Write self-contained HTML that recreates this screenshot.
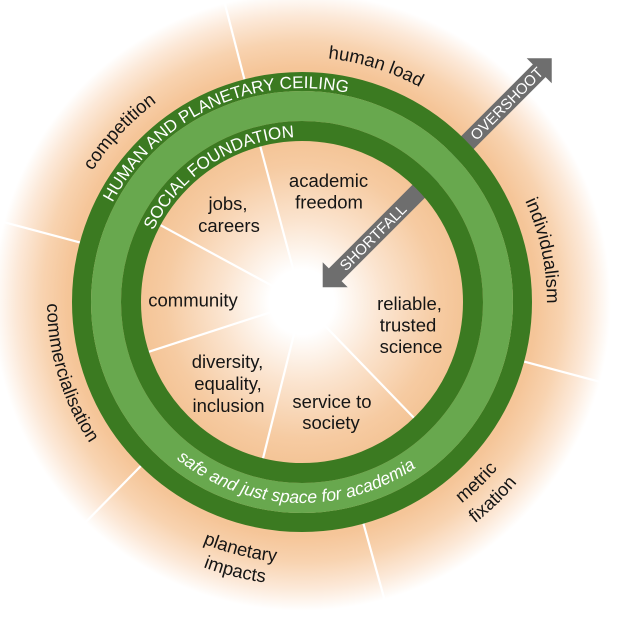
<!DOCTYPE html>
<html>
<head>
<meta charset="utf-8">
<style>
html,body{margin:0;padding:0;background:#fff;}
svg{display:block;}
text{font-family:"Liberation Sans",Helvetica,Arial,sans-serif;}
.lbl{font-size:18.5px;fill:#151515;}
.ring{font-size:17px;fill:#ffffff;}
.arr{font-size:15px;fill:#ffffff;}
</style>
</head>
<body>
<svg xmlns="http://www.w3.org/2000/svg" xmlns:xlink="http://www.w3.org/1999/xlink" width="617" height="617" viewBox="0 0 617 617">
<defs>
<radialGradient id="bg" gradientUnits="userSpaceOnUse" cx="302" cy="302" r="325">
<stop offset="0" stop-color="#ffffff"/>
<stop offset="0.1" stop-color="#ffffff"/>
<stop offset="0.25" stop-color="#fbe4cf"/>
<stop offset="0.42" stop-color="#f6cba2"/>
<stop offset="0.5" stop-color="#f4c496"/>
<stop offset="0.72" stop-color="#f5c598"/>
<stop offset="0.8" stop-color="#f8d3b0"/>
<stop offset="0.88" stop-color="#fce8d7"/>
<stop offset="0.95" stop-color="#ffffff"/>
<stop offset="1" stop-color="#ffffff"/>
</radialGradient>
<path id="cw245" d="M302,57 A245,245 0 0 1 302,547"/>
<path id="cw247" d="M302,55 A247,247 0 0 1 302,549"/>
<path id="cw214" d="M302,88 A214,214 0 0 1 302,516"/>
<path id="cw165" d="M302,137 A165,165 0 0 1 302,467"/>
<path id="ccw255" d="M302,557 A255,255 0 0 0 302,47"/>
<path id="ccw261" d="M302,563 A261,261 0 0 0 302,41"/>
<path id="ccw283" d="M302,585 A283,283 0 0 0 302,19"/>
<path id="ccw257" d="M302,559 A257,257 0 0 0 302,45"/>
<path id="ccw281" d="M302,583 A281,281 0 0 0 302,21"/>
<path id="ccw201" d="M302,503 A201,201 0 0 0 302,101"/>
</defs>

<rect x="0" y="0" width="617" height="617" fill="url(#bg)"/>

<!-- inner divider lines -->
<g stroke="#ffffff" stroke-width="2.2" stroke-linecap="butt">
<line x1="332" y1="302" x2="464" y2="302" transform="rotate(255 302 302)"/>
<line x1="332" y1="302" x2="464" y2="302" transform="rotate(208.5 302 302)"/>
<line x1="332" y1="302" x2="464" y2="302" transform="rotate(162 302 302)"/>
<line x1="332" y1="302" x2="464" y2="302" transform="rotate(104 302 302)"/>
<line x1="332" y1="302" x2="464" y2="302" transform="rotate(46 302 302)"/>
<!-- outer divider lines -->
<line x1="530" y1="302" x2="620" y2="302" transform="rotate(255.5 302 302)"/>
<line x1="530" y1="302" x2="620" y2="302" transform="rotate(195 302 302)"/>
<line x1="530" y1="302" x2="620" y2="302" transform="rotate(134.5 302 302)"/>
<line x1="530" y1="302" x2="620" y2="302" transform="rotate(74.5 302 302)"/>
<line x1="530" y1="302" x2="620" y2="302" transform="rotate(15 302 302)"/>
</g>

<!-- arrow -->
<g transform="translate(322.7 287.3) rotate(-45)">
<polygon fill="#6e6e6e" points="0,0 17.7,-17.7 17.7,-9 306.2,-9 306.2,-17.7 323.9,0 306.2,17.7 306.2,9 17.7,9 17.7,17.7"/>
<text class="arr" x="71" y="5.4" text-anchor="middle">SHORTFALL</text>
<text class="arr" x="260" y="5.4" text-anchor="middle">OVERSHOOT</text>
</g>

<!-- rings -->
<circle cx="302" cy="302" r="220.5" fill="none" stroke="#3b7a21" stroke-width="19"/>
<circle cx="302" cy="302" r="196" fill="none" stroke="#68a84e" stroke-width="30"/>
<circle cx="302" cy="302" r="171" fill="none" stroke="#3b7a21" stroke-width="20"/>

<!-- ring text -->
<text class="ring" transform="rotate(245 302 302)"><textPath href="#cw214" xlink:href="#cw214" startOffset="50%" text-anchor="middle">HUMAN AND PLANETARY CEILING</textPath></text>
<text class="ring" transform="rotate(236.5 302 302)"><textPath href="#cw165" xlink:href="#cw165" startOffset="50%" text-anchor="middle">SOCIAL FOUNDATION</textPath></text>
<text class="ring" style="font-style:italic;font-size:17.5px" transform="rotate(92 302 302)"><textPath href="#ccw201" xlink:href="#ccw201" startOffset="50%" text-anchor="middle">safe and just space for academia</textPath></text>

<!-- outer labels -->
<text class="lbl" transform="rotate(287.4 302 302)"><textPath href="#cw245" xlink:href="#cw245" startOffset="50%" text-anchor="middle">human load</textPath></text>
<text class="lbl" transform="rotate(223 302 302)"><textPath href="#cw247" xlink:href="#cw247" startOffset="50%" text-anchor="middle">competition</textPath></text>
<text class="lbl" transform="rotate(348 302 302)"><textPath href="#cw245" xlink:href="#cw245" startOffset="50%" text-anchor="middle">individualism</textPath></text>
<text class="lbl" transform="rotate(163 302 302)"><textPath href="#ccw255" xlink:href="#ccw255" startOffset="50%" text-anchor="middle">commercialisation</textPath></text>
<text class="lbl" transform="rotate(104 302 302)"><textPath href="#ccw261" xlink:href="#ccw261" startOffset="50%" text-anchor="middle">planetary</textPath></text>
<text class="lbl" transform="rotate(104 302 302)"><textPath href="#ccw283" xlink:href="#ccw283" startOffset="50%" text-anchor="middle">impacts</textPath></text>
<text class="lbl" transform="rotate(46 302 302)"><textPath href="#ccw257" xlink:href="#ccw257" startOffset="50%" text-anchor="middle">metric</textPath></text>
<text class="lbl" transform="rotate(46 302 302)"><textPath href="#ccw281" xlink:href="#ccw281" startOffset="50%" text-anchor="middle">fixation</textPath></text>

<!-- inner labels -->
<g class="lbl" text-anchor="middle">
<text x="328.5" y="187">academic</text>
<text x="329" y="208.5">freedom</text>
<text x="228" y="210">jobs,</text>
<text x="229" y="232">careers</text>
<text x="193" y="306.5">community</text>
<text x="227.5" y="368">diversity,</text>
<text x="228" y="390">equality,</text>
<text x="228.5" y="412">inclusion</text>
<text x="409.5" y="310">reliable,</text>
<text x="408" y="331.5">trusted</text>
<text x="411" y="353">science</text>
<text x="332" y="408">service to</text>
<text x="331" y="429">society</text>
</g>
</svg>
</body>
</html>
